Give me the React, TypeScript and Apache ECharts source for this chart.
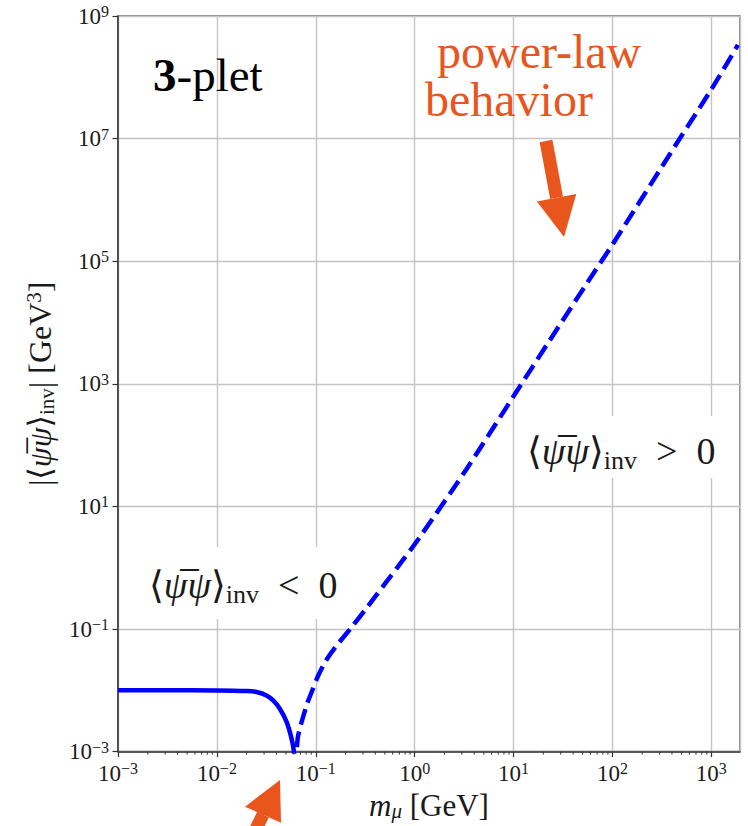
import React, { useEffect, useRef } from "react";
import * as echarts from "echarts";

// ---- data ----
const X_MIN = 0.001;
const X_MAX = 1950;
const Y_MIN = 0.001;
const Y_MAX = 1e9;

// |<psi-bar psi>_inv| for the negative branch (solid line)
const NEG_M = [0.001, 0.003, 0.01, 0.02, 0.0252, 0.0318, 0.0371, 0.0433, 0.0507, 0.0569, 0.0601, 0.0612];
const NEG_ABS = [0.0100, 0.0100, 0.00995, 0.00973, 0.00938, 0.00826, 0.00684, 0.00501, 0.00305, 0.00163, 0.001, 0.0005];

// positive branch (dashed line)
const POS_M = [0.0625, 0.0645, 0.0664, 0.0807, 0.0915, 0.1057, 0.1264, 0.156, 0.23, 0.339, 0.499, 0.736, 1.084, 3.34, 10.3, 23.2, 58.9, 100, 471, 1000, 1858];
const POS_VAL = [0.0005, 0.00115, 0.00184, 0.00568, 0.00966, 0.01726, 0.0303, 0.0493, 0.1064, 0.238, 0.543, 1.24, 2.88, 40.5, 674, 5100, 51200, 186700, 9.55e6, 6.35e7, 3.37e8];

// minor tick positions on the x axis (2..9 times each decade)
const MINOR_MULT = [2, 3, 4, 5, 6, 7, 8, 9];
const MINOR_DECADES = [0.001, 0.01, 0.1, 1, 10, 100, 1000];

const BLUE = "#0000ff";
const ORANGE = "#e8561e";
const SERIF = "'Liberation Serif', 'DejaVu Serif', serif";
const INK = "#1a1a1a";

function powLabel(v: number): string {
  const l = Math.log10(v);
  const e = Math.round(l);
  if (Math.abs(l - e) > 1e-6) return "";
  const es = e < 0 ? "\u2212" + -e : String(e);
  return "{b|10}{s|" + es + "}";
}

const tickRich = {
  b: { fontSize: 23, fontFamily: SERIF, color: INK, lineHeight: 25 },
  s: { fontSize: 16, fontFamily: SERIF, color: INK, lineHeight: 16, verticalAlign: "top" },
};

const mathRich = {
  o: { fontFamily: SERIF, fontSize: 38, fontStyle: "italic", fill: INK, lineHeight: 44 },
  sub: { fontFamily: SERIF, fontSize: 26, fill: INK, lineHeight: 44, verticalAlign: "bottom" },
};

export default function App() {
  const ref = useRef<HTMLDivElement>(null);
  useEffect(() => {
    if (!ref.current) return;
    const chart = echarts.init(ref.current, undefined, { renderer: "svg" });
    const minorTicks: number[][] = [];
    MINOR_DECADES.forEach((d) =>
      MINOR_MULT.forEach((k) => {
        const v = d * k;
        if (v < X_MAX) minorTicks.push([v, Y_MIN]);
      })
    );

    const option: any = {
      animation: false,
      backgroundColor: "#ffffff",
      grid: {
        left: 118,
        top: 16,
        right: 8,
        bottom: 73,
        show: true,
        borderColor: "#666",
        borderWidth: 1.5,
        backgroundColor: "transparent",
      },
      xAxis: {
        type: "log",
        logBase: 10,
        min: X_MIN,
        max: X_MAX,
        interval: 1,
        axisLine: { show: true, onZero: false, lineStyle: { color: "#333", width: 1.5 } },
        axisTick: { show: true, length: 5.5, lineStyle: { color: "#333", width: 1.2 } },
        minorTick: { show: false },
        axisLabel: { formatter: powLabel, rich: tickRich, margin: 9, showMaxLabel: false },
        splitLine: { show: true, lineStyle: { color: "#c4c4c4", width: 1.4 } },
        name: "{i|m}{sub|\u03bc} [GeV]",
        nameLocation: "middle",
        nameGap: 32,
        nameTextStyle: {
          fontFamily: SERIF,
          fontSize: 31,
          color: INK,
          rich: {
            i: { fontFamily: SERIF, fontSize: 31, fontStyle: "italic", color: INK, lineHeight: 32 },
            sub: { fontFamily: SERIF, fontSize: 21, fontStyle: "italic", color: INK, lineHeight: 32, verticalAlign: "bottom" },
          },
        },
      },
      yAxis: {
        type: "log",
        logBase: 10,
        min: Y_MIN,
        max: Y_MAX,
        interval: 2,
        axisLine: { show: true, onZero: false, lineStyle: { color: "#333", width: 1.5 } },
        axisTick: { show: true, length: 5.5, lineStyle: { color: "#333", width: 1.2 } },
        minorTick: { show: false },
        axisLabel: { formatter: powLabel, rich: tickRich, margin: 9 },
        splitLine: { show: true, lineStyle: { color: "#c4c4c4", width: 1.4 } },
        name: "|\u27e8{o|\u03c8\u0305}{o|\u03c8}\u27e9{sub|inv}| [GeV{sup|3}]",
        nameLocation: "middle",
        nameGap: 61,
        nameTextStyle: {
          fontFamily: SERIF,
          fontSize: 32,
          color: INK,
          rich: {
            o: { fontFamily: SERIF, fontSize: 32, fontStyle: "italic", color: INK, lineHeight: 34 },
            sub: { fontFamily: SERIF, fontSize: 21, color: INK, lineHeight: 34, verticalAlign: "bottom" },
            sup: { fontFamily: SERIF, fontSize: 21, color: INK, lineHeight: 20, verticalAlign: "top" },
          },
        },
      },
      series: [
        {
          type: "line",
          data: NEG_M.map((m, i) => [m, NEG_ABS[i]]),
          showSymbol: false,
          smooth: 0.3,
          clip: true,
          lineStyle: { color: BLUE, width: 4.5 },
          z: 3,
        },
        {
          type: "line",
          data: POS_M.map((m, i) => [m, POS_VAL[i]]),
          showSymbol: false,
          smooth: 0.3,
          clip: true,
          lineStyle: { color: BLUE, width: 4.5, type: [16, 7] },
          z: 3,
        },
        {
          type: "custom",
          silent: true,
          clip: false,
          data: minorTicks,
          renderItem: (params: any, api: any) => {
            const p = api.coord([api.value(0), api.value(1)]);
            return {
              type: "line",
              shape: { x1: p[0], y1: p[1], x2: p[0], y2: p[1] + 3 },
              style: { stroke: "#333", lineWidth: 1 },
            };
          },
          z: 4,
        },
      ],
      graphic: [
        // white boxes behind the math labels
        { type: "rect", z: 50, shape: { x: 140, y: 547, width: 204, height: 72 }, style: { fill: "#ffffff" } },
        { type: "rect", z: 50, shape: { x: 515, y: 416, width: 206, height: 62 }, style: { fill: "#ffffff" } },
        {
          type: "text",
          z: 60,
          x: 149,
          y: 585,
          style: {
            text: "\u27e8{o|\u03c8\u0305}{o|\u03c8}\u27e9{sub|inv}\u2002<\u20020",
            font: "38px " + SERIF,
            fill: INK,
            verticalAlign: "middle",
            textAlign: "left",
            rich: mathRich,
          },
        },
        {
          type: "text",
          z: 60,
          x: 527,
          y: 451,
          style: {
            text: "\u27e8{o|\u03c8\u0305}{o|\u03c8}\u27e9{sub|inv}\u2002>\u20020",
            font: "38px " + SERIF,
            fill: INK,
            verticalAlign: "middle",
            textAlign: "left",
            rich: mathRich,
          },
        },
        {
          type: "text",
          z: 60,
          x: 153,
          y: 75,
          style: {
            text: "{b|3}{n|-plet}",
            font: "47px " + SERIF,
            fill: "#000",
            verticalAlign: "middle",
            textAlign: "left",
            rich: {
              b: { fontFamily: SERIF, fontSize: 47, fontWeight: "bold", fill: "#000" },
              n: { fontFamily: SERIF, fontSize: 47, fill: "#000" },
            },
          },
        },
        {
          type: "text",
          z: 60,
          x: 437,
          y: 51,
          style: { text: "power-law", font: "48px " + SERIF, fill: ORANGE, verticalAlign: "middle", textAlign: "left" },
        },
        {
          type: "text",
          z: 60,
          x: 425,
          y: 99,
          style: { text: "behavior", font: "48px " + SERIF, fill: ORANGE, verticalAlign: "middle", textAlign: "left" },
        },
        // arrow 1 (pointing down at the power-law part)
        {
          type: "polygon",
          z: 60,
          shape: { points: [[539.6, 142.2], [552.4, 139.8], [563, 196.5], [550.2, 198.9]] },
          style: { fill: ORANGE },
        },
        {
          type: "polygon",
          z: 60,
          shape: { points: [[536.9, 201.4], [576.3, 194], [564, 237]] },
          style: { fill: ORANGE },
        },
        // arrow 2 (pointing up at the sign change)
        {
          type: "polygon",
          z: 60,
          shape: { points: [[268.8, 817.6], [257.2, 811.8], [230.8, 865.8], [242.4, 871.6]] },
          style: { fill: ORANGE },
        },
        {
          type: "polygon",
          z: 60,
          shape: { points: [[245, 806.7], [281, 822.7], [280, 780]] },
          style: { fill: ORANGE },
        },
      ],
    };
    chart.setOption(option);
    return () => chart.dispose();
  }, []);
  return (
    <div
      ref={ref}
      style={{ position: "fixed", left: 0, top: 0, width: 748, height: 826, background: "#fff" }}
    />
  );
}
